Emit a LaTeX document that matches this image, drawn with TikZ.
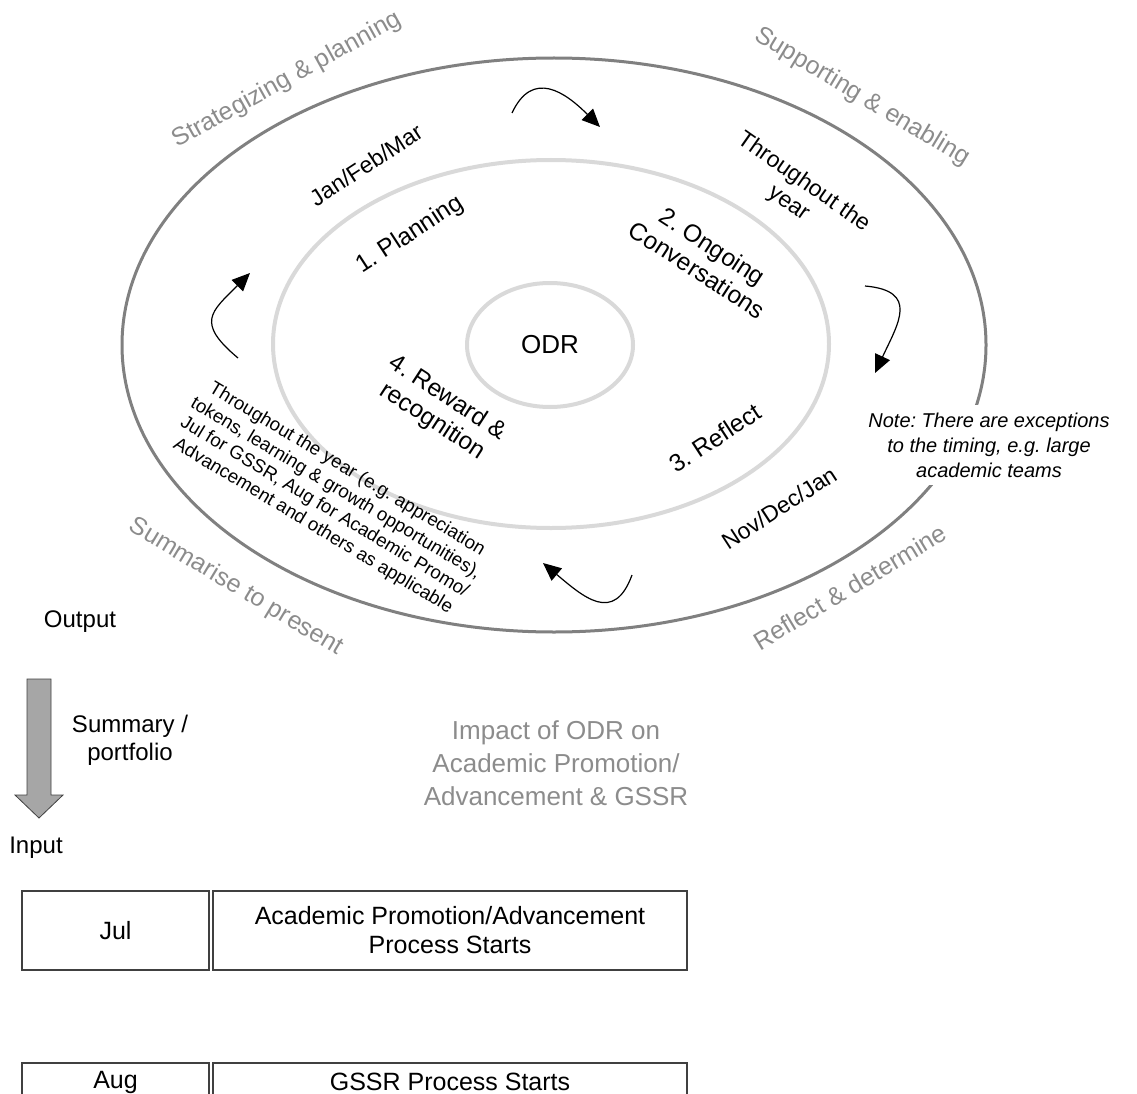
\documentclass[tikz,border=0pt]{standalone}
\usepackage{fontspec}
\setmainfont{Liberation Sans}
\usetikzlibrary{arrows.meta}
\usetikzlibrary{shapes.geometric}
\definecolor{ringgray}{RGB}{128,128,128}
\definecolor{lightring}{RGB}{217,217,217}
\definecolor{themegray}{RGB}{140,140,140}
\definecolor{boxline}{RGB}{64,64,64}
\definecolor{flowfill}{RGB}{166,166,166}
\frenchspacing

\begin{document}
\begin{tikzpicture}[x=1pt,y=1pt,
        outerring/.style={draw=ringgray, line width=3pt},
        innerring/.style={draw=lightring, line width=4pt},
        theme/.style={text=themegray, font=\fontsize{25}{30}\selectfont},
        phase/.style={align=center, font=\fontsize{24.5}{28}\selectfont},
        month/.style={align=center, font=\fontsize{23}{26}\selectfont},
        cyc/.style={line width=1.2pt, -{Triangle[length=18pt,width=16pt]}},
        plain/.style={align=center, font=\fontsize{24}{28}\selectfont},
        cell/.style={draw=boxline, line width=1.2pt, align=center, inner sep=0pt,
          minimum height=79pt, font=\fontsize{25}{29}\selectfont}]
        \useasboundingbox (0,0) rectangle (1137,-1094);

        \draw[outerring] (554,-345) ellipse [x radius=432, y radius=287];
        \draw[innerring] (551,-344) ellipse [x radius=278, y radius=184];
        \node[ellipse, innerring, minimum width=166pt, minimum height=124pt, inner sep=0pt,
          font=\fontsize{26}{30}\selectfont] (odr) at (550,-345) {ODR};

        \node[theme, rotate=29] (strat) at (287,-80) {Strategizing \& planning};
        \node[theme, rotate=-31] (support) at (862,-97) {Supporting \& enabling};
        \node[theme, rotate=-31] (summ) at (236,-587) {Summarise to present};
        \node[theme, rotate=31] (refdet) at (850,-587) {Reflect \& determine};

        \node[month, rotate=33] (jfm) at (366,-165) {Jan/Feb/Mar};
        \node[phase, rotate=33] (plan) at (410,-235) {1. Planning};
        \node[month, rotate=-35] (tty) at (796,-193) {Throughout the\\year};
        \node[phase, rotate=-33] (talk) at (705,-258) {2. Ongoing\\Conversations};
        \node[phase, rotate=-33] (reward) at (440,-410) {4. Reward \&\\recognition};
        \node[phase, rotate=33] (reflect) at (715,-438) {3. Reflect};
        \node[month, rotate=33] (ndj) at (779,-508) {Nov/Dec/Jan};
        \node[align=center, rotate=-31, font=\fontsize{18.7}{22}\selectfont] (rtext) at (330,-498)
          {Throughout the year (e.g. appreciation\\tokens, learning \& growth opportunities),\\
           Jul for GSSR, Aug for Academic Promo/\\Advancement and others as applicable};

        \node[fill=white, align=center, inner ysep=8pt, font=\fontsize{20}{25}\selectfont\itshape]
          (note) at (989,-445) {Note: There are exceptions\\to the timing, e.g. large\\academic teams};

        \coordinate (c1a) at (512,-113);
        \coordinate (c1b) at (600,-127);
        \coordinate (c2a) at (865,-286);
        \coordinate (c2b) at (875,-373);
        \coordinate (c3a) at (632,-575);
        \coordinate (c3b) at (543,-563);
        \coordinate (c4a) at (238,-358);
        \coordinate (c4b) at (250,-273);
        \draw[cyc] (c1a) to[out=65, in=135, looseness=1.4] (c1b);
        \draw[cyc] (c2a) to[out=-5, in=65, looseness=1.6] (c2b);
        \draw[cyc] (c3a) to[out=-110, in=-40, looseness=1.5] (c3b);
        \draw[cyc] (c4a) to[out=140, in=225, looseness=1.65] (c4b);

        \node[plain] (output) at (80,-622) {Output};
        \draw[draw=boxline, line width=0.8pt, fill=flowfill]
          (27,-679) -- (51,-679) -- (51,-795) -- (63,-795) -- (39,-818) -- (15,-795) -- (27,-795) -- cycle;
        \node[plain] (summary) at (130,-740) {Summary /\\portfolio};
        \node[plain] (input) at (36,-848) {Input};

        \node[align=center, text=themegray, font=\fontsize{26}{33}\selectfont] (impact) at (556,-763)
          {Impact of ODR on\\Academic Promotion/\\Advancement \& GSSR};

        \node[cell, minimum width=187pt] (jul) at (115.5,-930.5) {Jul};
        \node[cell, minimum width=474pt] (julproc) at (450,-930.5) {Academic Promotion/Advancement\\Process Starts};
        \node[cell, minimum width=187pt, minimum height=38pt] (aug) at (115.5,-1082) {Aug};
        \node[cell, minimum width=474pt, minimum height=38pt] (augproc) at (450,-1082) {GSSR Process Starts};
\end{tikzpicture}
\end{document}
